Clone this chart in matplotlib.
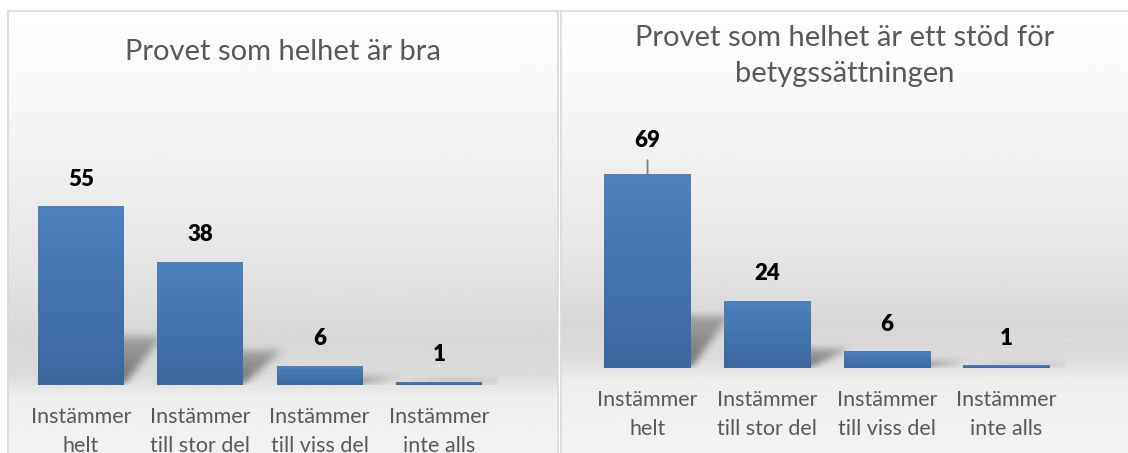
import numpy as np
import matplotlib
matplotlib.use("Agg")
import matplotlib.pyplot as plt
from matplotlib.colors import LinearSegmentedColormap

plt.rcParams['font.family'] = ['Lato', 'DejaVu Sans']

# data
categories = ["Instämmer\nhelt", "Instämmer\ntill stor del",
              "Instämmer\ntill viss del", "Instämmer\ninte alls"]
titles = ["Provet som helhet är bra",
          "Provet som helhet är ett stöd för\nbetygssättningen"]
values_bra = [55, 38, 6, 1]
values_stod = [69, 24, 6, 1]

W, H = 1128, 453
fig = plt.figure(figsize=(W / 100, H / 100), dpi=100)
fig.patch.set_facecolor('white')

TXT = '#595959'
bar_cmap = LinearSegmentedColormap.from_list('bar', ['#3b679e', '#4f81bd'])


def px_axes(x0, y0, x1, y1):
    # pixel box (top-left origin) -> figure axes
    return fig.add_axes([x0 / W, 1 - y1 / H, (x1 - x0) / W, (y1 - y0) / H])


def blur(a, r):
    k = np.ones(2 * r + 1) / (2 * r + 1)
    for _ in range(3):
        a = np.apply_along_axis(lambda m: np.convolve(m, k, mode='same'), 0, a)
        a = np.apply_along_axis(lambda m: np.convolve(m, k, mode='same'), 1, a)
    return a


def panel(x0, x1, base_y, title, title_y):
    ax = px_axes(x0, 11, x1, 470)
    ys = np.linspace(11, 470, 400)
    stops_y = [11, 60, 150, 250, base_y - 45, base_y - 10, base_y + 12, 470]
    stops_v = [1.0, 0.985, 0.945, 0.905, 0.845, 0.86, 0.93, 0.955]
    prof = np.interp(ys, stops_y, stops_v)
    img = np.repeat(prof[:, None], 2, axis=1)
    ax.imshow(img, cmap='gray', vmin=0, vmax=1, aspect='auto',
              extent=[0, 1, 0, 1], origin='upper', interpolation='bilinear')
    ax.set_xlim(0, 1)
    ax.set_ylim(0, 1)
    ax.set_xticks([])
    ax.set_yticks([])
    for s in ax.spines.values():
        s.set_color('#d9d9d9')
        s.set_linewidth(1.2)
    fig.text((x0 + x1) / 2 / W, 1 - title_y / H, title, ha='center', va='center',
             fontsize=21, color=TXT, linespacing=1.5)
    return ax


def bars(x0, x1, base_y, px_per_unit, values, leader=False):
    ymax = 80
    ax = px_axes(x0, base_y - ymax * px_per_unit, x1, base_y)
    ax.set_facecolor('none')
    n = len(values)
    x = np.arange(n)
    width = 0.72

    # blurred perspective shadow behind bars
    nx, ny = 480, 240
    gx = np.linspace(-0.5, n - 0.5, nx)
    gy = np.linspace(0, ymax, ny)
    XX, YY = np.meshgrid(gx, gy)
    mask = np.zeros_like(XX)
    for xi, v in zip(x, values):
        dy = 0.26 * v + 0.5
        t = np.clip(YY / dy, 0, None)
        shift = 0.32 * t
        inside = (t <= 1) & (XX >= xi - width / 2 + shift) & (XX <= xi + width / 2 + shift)
        mask = np.maximum(mask, inside * (1 - 0.5 * t))
    mask = blur(mask, 3)
    rgba = np.zeros((ny, nx, 4))
    rgba[..., :3] = 0.3
    rgba[..., 3] = np.clip(0.75 * mask, 0, 1)
    ax.imshow(rgba, extent=[-0.5, n - 0.5, 0, ymax], origin='lower',
              aspect='auto', zorder=1, interpolation='bilinear')

    grad = np.linspace(0, 1, 100)[:, None]
    for xi, v in zip(x, values):
        b = ax.bar(xi, v, width=width, color='#4a7ab5', zorder=2)[0]
        im = ax.imshow(grad, cmap=bar_cmap, aspect='auto', origin='lower',
                       extent=[xi - width / 2, xi + width / 2, 0, v], zorder=3)
        im.set_clip_path(b)
    for i, (xi, v) in enumerate(zip(x, values)):
        off = 27
        if leader and i == 0:
            off = 34
            ax.annotate('', xy=(xi, v), xytext=(0, 14), textcoords='offset pixels',
                        arrowprops=dict(arrowstyle='-', color='#7f7f7f', lw=1.3,
                                        shrinkA=0, shrinkB=0))
        ax.annotate(str(v), xy=(xi, v), xytext=(0, off), textcoords='offset pixels',
                    ha='center', va='center', fontsize=16, fontweight='heavy',
                    color='black', zorder=5)
    ax.set_xlim(-0.5, n - 0.5)
    ax.set_ylim(0, ymax)
    ax.set_xticks(x)
    ax.set_xticklabels(categories, fontsize=15.5, color=TXT, linespacing=1.55)
    ax.tick_params(axis='x', length=0, pad=16)
    ax.set_yticks([])
    for s in ax.spines.values():
        s.set_visible(False)
    return ax


panel(8, 558, 385, titles[0], 52)
panel(561, 1129, 368, titles[1], 56)
bars(21.25, 498.75, 385, 3.25, values_bra)
bars(587.7, 1066.3, 368, 2.81, values_stod, leader=True)

fig.savefig('out.png', dpi=100, facecolor='white')
